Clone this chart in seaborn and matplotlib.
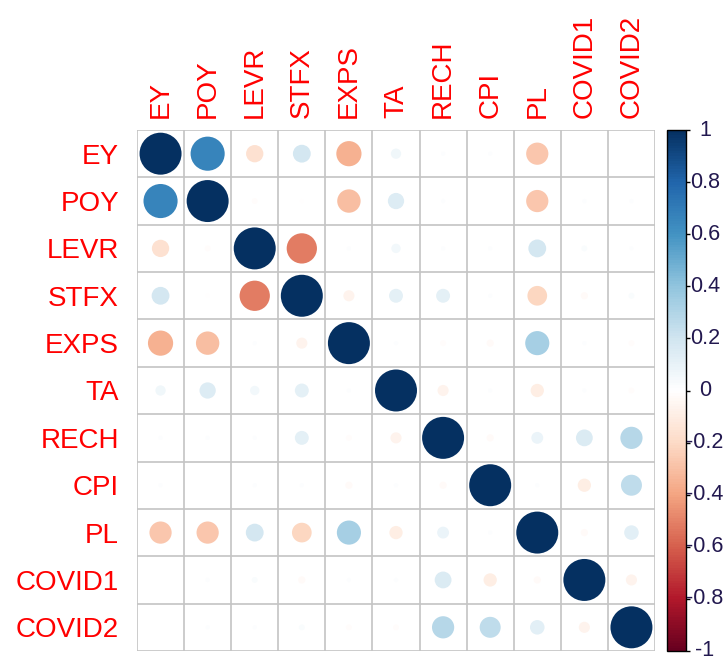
import numpy as np
import pandas as pd
import matplotlib
matplotlib.use("Agg")
import matplotlib.pyplot as plt
import matplotlib.transforms as mtransforms
import seaborn as sns
from matplotlib.colors import LinearSegmentedColormap, Normalize
from matplotlib.cm import ScalarMappable

# --- data: correlation matrix ---
labels = ["EY", "POY", "LEVR", "STFX", "EXPS", "TA", "RECH", "CPI", "PL", "COVID1", "COVID2"]

corr = [
    #  EY    POY    LEVR   STFX   EXPS   TA     RECH   CPI    PL     COV1   COV2
    [1.00,  0.66, -0.17,  0.18, -0.36,  0.06,  0.01,  0.01, -0.28,  0.00,  0.00],
    [0.66,  1.00, -0.02, -0.01, -0.31,  0.15,  0.01,  0.00, -0.28,  0.01,  0.01],
    [-0.17, -0.02, 1.00, -0.52,  0.01,  0.05,  0.01,  0.01,  0.18,  0.02,  0.01],
    [0.18, -0.01, -0.52,  1.00, -0.07,  0.11,  0.11,  0.01, -0.22, -0.03,  0.02],
    [-0.36, -0.31, 0.01, -0.07,  1.00,  0.01, -0.02, -0.03,  0.33,  0.01, -0.02],
    [0.06,  0.15,  0.05,  0.11,  0.01,  1.00, -0.07,  0.01, -0.10,  0.01, -0.02],
    [0.01,  0.01,  0.01,  0.11, -0.02, -0.07,  1.00, -0.03,  0.08,  0.16,  0.28],
    [0.01,  0.00,  0.01,  0.01, -0.03,  0.01, -0.03,  1.00,  0.01, -0.10,  0.25],
    [-0.28, -0.28, 0.18, -0.22,  0.33, -0.10,  0.08,  0.01,  1.00, -0.03,  0.12],
    [0.00,  0.01,  0.02, -0.03,  0.01,  0.01,  0.16, -0.10, -0.03,  1.00, -0.07],
    [0.00,  0.01,  0.01,  0.02, -0.02, -0.02,  0.28,  0.25,  0.12, -0.07,  1.00],
]

cbar_ticks = [-1, -0.8, -0.6, -0.4, -0.2, 0, 0.2, 0.4, 0.6, 0.8, 1]
cbar_labels = ["-1", "-0.8", "-0.6", "-0.4", "-0.2", "0", "0.2", "0.4", "0.6", "0.8", "1"]

# corrplot's COL2("RdBu") palette
col2 = ["#67001F", "#B2182B", "#D6604D", "#F4A582", "#FDDBC7", "#FFFFFF",
        "#D1E5F0", "#92C5DE", "#4393C3", "#2166AC", "#053061"]
cmap = LinearSegmentedColormap.from_list("col2", col2, N=200)

# --- long format for seaborn ---
df = pd.DataFrame(corr, index=labels, columns=labels).stack().reset_index()
df.columns = ["row", "col", "r"]
pos = {lab: i for i, lab in enumerate(labels)}
df["x"] = df["col"].map(pos)
df["y"] = df["row"].map(pos)
df["size"] = df["r"].abs()

sns.set_style("white")
plt.rcParams["font.family"] = ["Liberation Sans", "DejaVu Sans"]

W, H = 728, 662
fig = plt.figure(figsize=(W / 100, H / 100), dpi=100)
ax = fig.add_axes([137 / W, 1 - 651 / H, 518 / W, 521 / H])

# grid
n = len(labels)
for g in np.arange(-0.5, n, 1.0):
    ax.axhline(g, color="#c4c4c4", lw=1.2, zorder=0)
    ax.axvline(g, color="#c4c4c4", lw=1.2, zorder=0)

# circles: area proportional to |r|
sns.scatterplot(data=df, x="x", y="y", hue="r", hue_norm=(-1, 1), palette=cmap,
                size="size", size_norm=(0, 1), sizes=(0, 914), legend=False,
                linewidth=0, ax=ax, zorder=3)

ax.set_xlim(-0.5, n - 0.5)
ax.set_ylim(n - 0.5, -0.5)
for s in ax.spines.values():
    s.set_visible(False)
ax.set_xlabel("")
ax.set_ylabel("")
ax.set_xticks(range(n))
ax.set_yticks(range(n))
ax.xaxis.tick_top()
ax.set_xticklabels(labels, rotation=90, color="red", fontsize=20)
ax.set_yticklabels(labels, color="red", fontsize=20)
ax.tick_params(axis="x", length=0, pad=9)
ax.tick_params(axis="y", length=0, pad=13)

# colorbar
cax = fig.add_axes([667 / W, 1 - 651 / H, 19 / W, 521 / H])
cb = fig.colorbar(ScalarMappable(norm=Normalize(-1, 1), cmap=cmap), cax=cax, ticks=cbar_ticks)
cb.outline.set_edgecolor("black")
cb.outline.set_linewidth(1)
cax.tick_params(length=3, width=1, color="black")
cax.set_yticklabels([])
trans = mtransforms.blended_transform_factory(cax.transAxes, cax.transData)
for t, lab in zip(cbar_ticks, cbar_labels):
    cax.text(2.0, t, lab, transform=trans, ha="center", va="center",
             fontsize=15.5, color="#22184f")

fig.savefig("out.png", dpi=100)
